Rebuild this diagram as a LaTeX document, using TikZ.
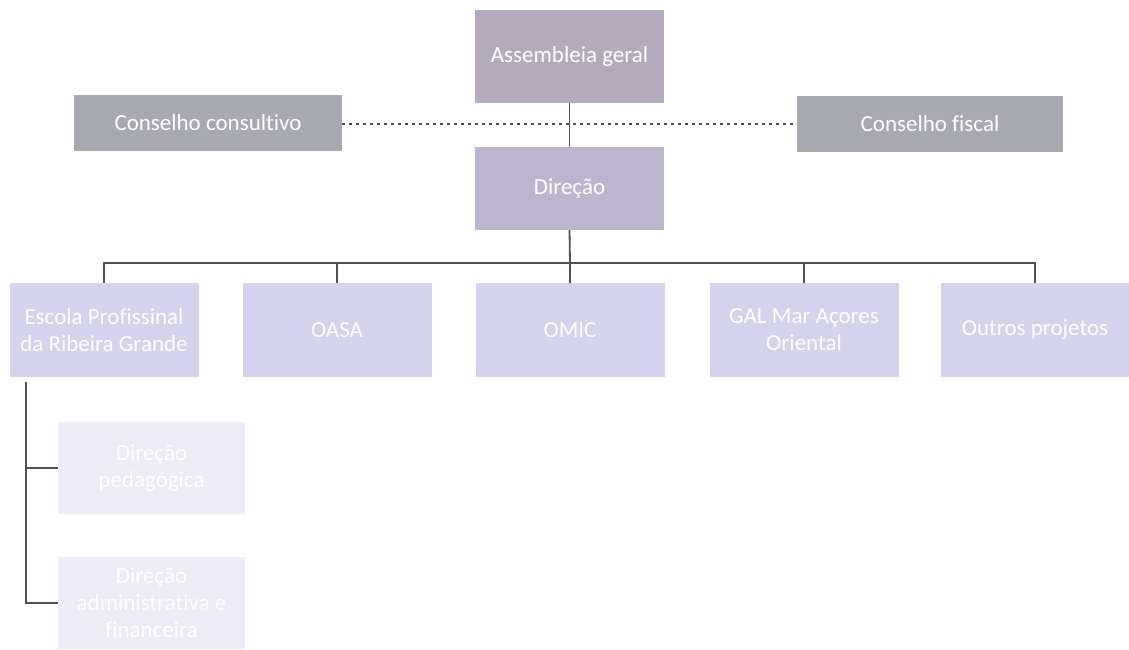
\documentclass[tikz,border=0pt]{standalone}
\usepackage{fontspec}
\setmainfont[Ligatures={NoCommon}]{Carlito}
\usetikzlibrary{calc}
\definecolor{agcol}{HTML}{B4AABD}
\definecolor{dircol}{HTML}{BDB4CD}
\definecolor{cccol}{HTML}{A8A8B1}
\definecolor{rowcol}{HTML}{D5D2EE}
\definecolor{subcol}{HTML}{ECEBF6}
\definecolor{linecol}{HTML}{505058}
\begin{document}
\begin{tikzpicture}[x=1pt,y=-1pt,
  box/.style={rectangle,inner sep=2pt,align=center,text=white,
    font=\fontsize{23}{27}\selectfont},
  topbox/.style={box,fill=agcol,minimum width=189pt,minimum height=93pt},
  dirbox/.style={box,fill=dircol,minimum width=189pt,minimum height=83pt},
  conbox/.style={box,fill=cccol,minimum height=56pt},
  rowbox/.style={box,fill=rowcol,minimum width=189pt,minimum height=94pt},
  subbox/.style={box,fill=subcol,minimum width=187pt,minimum height=92pt},
  conn/.style={draw=linecol,line width=1.8pt},
  dots/.style={draw=linecol,line width=2.6pt,dash pattern=on 2.6pt off 4.4pt}]
\useasboundingbox[fill=white] (0,0) rectangle (1129,650);
\node[topbox] (ag) at (569.5,56.5) {Assembleia geral};
\node[dirbox] (dir) at (569.5,188.5) {Direção};
\node[conbox,minimum width=268pt] (cc) at (208,123) {Conselho consultivo};
\node[conbox,minimum width=266pt] (cf) at (930,124) {Conselho fiscal};
\node[rowbox] (e1) at (104,330) {Escola Profissinal\\da Ribeira Grande};
\node[rowbox] (e2) at (337,330) {OASA};
\node[rowbox] (e3) at (570,330) {OMIC};
\node[rowbox] (e4) at (804,330) {GAL Mar Açores\\Oriental};
\node[rowbox] (e5) at (1035,330) {Outros projetos};
\node[subbox] (s1) at (151.5,468) {Direção\\pedagógica};
\node[subbox] (s2) at (151.5,603) {Direção\\administrativa e\\financeira};
\coordinate (bus) at (570,263);
\coordinate (mid) at (570,124);
\coordinate (st) at (26,382);
\draw[dots] (cc.east |- mid) -- (cf.west |- mid);
\draw[conn] (ag.south) -- (dir.north);
\draw[conn] (dir.south) -- (bus);
\draw[conn] (e1.north) |- (bus) -| (e5.north);
\draw[conn] (e2.north) -- (e2.north |- bus);
\draw[conn] (e3.north) -- (e3.north |- bus);
\draw[conn] (e4.north) -- (e4.north |- bus);
\draw[conn] (st) |- (s1.west);
\draw[conn] (st) |- (s2.west);
\end{tikzpicture}
\end{document}
